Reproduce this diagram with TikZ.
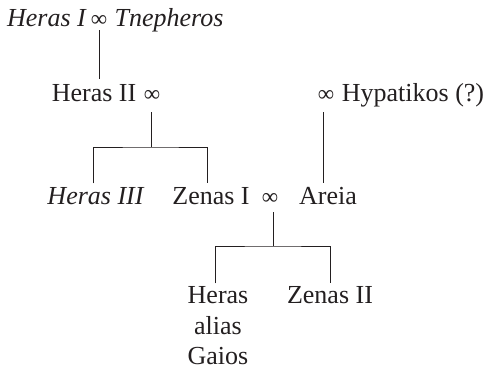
\documentclass[tikz,border=0pt]{standalone}
\usepackage{fontspec}
\setmainfont{Liberation Serif}
\definecolor{ink}{HTML}{231F20}
\begin{document}
\begin{tikzpicture}[x=1pt,y=-1pt,
  every node/.style={inner sep=0pt, anchor=base, text=ink,
    font=\fontsize{26}{30}\selectfont},
  marriage/.style={font=\fontsize{23}{28}\selectfont},
  link/.style={draw=ink, line width=0.9pt}]
\useasboundingbox (0,0) rectangle (485,371);

% first generation
\node (h1) at (47,27) {\textit{Heras I}};
\node[marriage] (m1) at (99,27) {∞};
\node (tn) at (169,27) {\textit{Tnepheros}};

% second generation
\node (h2) at (94,102) {Heras II};
\node[marriage] (m2) at (152,102) {∞};
\node[marriage] (m3) at (326,102) {∞};
\node (hy) at (413,102) {Hypatikos (?)};

% third generation
\node (h3) at (96,205) {\textit{Heras III}};
\node (z1) at (211,205) {Zenas I};
\node[marriage] (m4) at (270,205) {∞};
\node (ar) at (328,205) {Areia};

% fourth generation
\node (hg1) at (218,304) {Heras};
\node (hg2) at (218,335) {alias};
\node (hg3) at (218,365) {Gaios};
\node (z2) at (330,304) {Zenas II};

% junctions of the sibling brackets
\coordinate (j1) at (151,147);
\coordinate (j2) at (273,246);

% descent lines
\draw[link] ([yshift=-3pt]m1.south) -- ([yshift=5.5pt]m1.south |- h2.north);
\draw[link] ([xshift=-1pt,yshift=-10pt]m2.south) -- (j1);
\draw[link] ([xshift=-3pt,yshift=4.5pt]h3.north) |- (j1) -| ([xshift=-4pt,yshift=4.5pt]z1.north);
\draw[link] ([xshift=-3pt,yshift=-10pt]m3.south) -- ([xshift=-3pt,yshift=4.5pt]m3.south |- ar.north);
\draw[link] ([xshift=3pt,yshift=-7pt]m4.south) -- (j2);
\draw[link] ([xshift=-3pt,yshift=3.5pt]hg1.north) |- (j2) -| ([yshift=3.5pt]z2.north);
\end{tikzpicture}
\end{document}
